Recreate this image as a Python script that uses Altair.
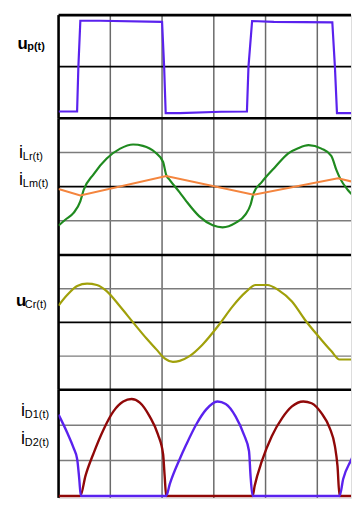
import altair as alt
import pandas as pd

# time axis in grid divisions (vertical grid every 1 division)
up_t = [0, 0.358, 0.383, 0.421, 0.805, 2.0, 2.04, 2.07, 2.34, 3.14, 3.64, 3.67, 3.74, 4.16, 5.29, 5.34, 5.38, 5.8]
up_v = [-0.87, -0.87, 0, 0.89, 0.89, 0.87, 0, -0.9, -0.9, -0.875, -0.87, 0, 0.885, 0.87, 0.86, 0, -0.9, -0.9]

ilr_t = [0, 0.13, 0.29, 0.42, 0.485, 0.676, 0.93, 1.19, 1.44, 1.63, 1.86, 2.02, 2.08, 2.15, 2.34,
         2.47, 2.72, 2.98, 3.17, 3.42, 3.61, 3.71, 3.77, 3.93, 4.19, 4.44, 4.64, 4.83, 5.08, 5.27,
         5.37, 5.44, 5.59, 5.8]
ilr_v = [-1.14, -0.97, -0.77, -0.43, -0.1, 0.36, 0.82, 1.11, 1.23, 1.19, 1.01, 0.72, 0.34, 0.19, -0.17,
         -0.43, -0.87, -1.13, -1.19, -1.06, -0.82, -0.53, -0.19, 0.14, 0.58, 0.97, 1.13, 1.21, 1.11, 0.9,
         0.48, 0.24, -0.1, -0.39]

ilm_t = [0, 0.42, 2.08, 3.77, 5.40, 5.8]
ilm_v = [-0.07, -0.26, 0.31, -0.24, 0.24, 0.1]

ucr_t = [0, 0.166, 0.36, 0.55, 0.74, 0.93, 1.19, 1.44, 1.70, 1.89, 2.05, 2.21, 2.34, 2.53, 2.78,
         3.10, 3.36, 3.61, 3.81, 4.03, 4.25, 4.51, 4.76, 5.02, 5.27, 5.43, 5.66, 5.8]
ucr_v = [0.5, 0.81, 1.08, 1.15, 1.11, 0.93, 0.47, 0, -0.48, -0.80, -1.07, -1.17, -1.14, -1.0, -0.66,
         -0.07, 0.47, 0.89, 1.11, 1.11, 0.96, 0.62, 0.08, -0.41, -0.85, -1.10, -1.10, -1.03]

id1_t = [0, 0.42, 0.52, 0.68, 0.87, 1.06, 1.25, 1.41, 1.57, 1.76, 1.92, 2.02, 2.05, 2.08,
         3.75, 3.79, 3.93, 4.12, 4.32, 4.51, 4.73, 4.89, 5.08, 5.24, 5.34, 5.39, 5.43, 5.8]
id1_v = [0, 0, 0.57, 1.22, 1.88, 2.39, 2.67, 2.74, 2.64, 2.25, 1.74, 1.18, 0.57, 0,
         0, 0.29, 0.99, 1.69, 2.2, 2.53, 2.67, 2.62, 2.34, 1.92, 1.41, 0.85, 0, 0]

id2_t = [0, 0.17, 0.29, 0.36, 0.40, 0.43, 2.08, 2.15, 2.34, 2.47, 2.66, 2.85, 3.07, 3.23, 3.42,
         3.58, 3.68, 3.71, 3.75, 5.43, 5.50, 5.66, 5.80]
id2_v = [2.3, 1.78, 1.36, 1.04, 0.48, 0, 0, 0.34, 1.04, 1.46, 2.02, 2.44, 2.67, 2.6, 2.25,
         1.74, 1.27, 0.57, 0, 0, 0.48, 1.04, 1.5]

# grid positions
grid_x = [1, 2, 3, 4, 5]
grid_y_p1 = []
grid_y_p23 = [-1, 1]
grid_y_p4 = [1, 2]

W = 295
XMAX = 295 / 52.2
P4H = 109
P4DOM = [3 - P4H / 35.7, 3]
FONT = "Liberation Sans"

BLUE = "#5a22ee"
GREEN = "#1f8a1f"
ORANGE = "#f4853e"
OLIVE = "#a0a00a"
RED = "#900808"
VGRID = "#6a6a6a"
HGRID = "#7c7c7c"


def xsc():
    return alt.Scale(domain=[0, XMAX], nice=False, zero=False)


def ysc(dom):
    return alt.Scale(domain=dom, nice=False, zero=False)


def line(t, v, color, dom, width=2.0, interp="linear"):
    df = pd.DataFrame({"t": t, "v": v})
    return alt.Chart(df).mark_line(color=color, strokeWidth=width, interpolate=interp, clip=True).encode(
        x=alt.X("t:Q", scale=xsc(), axis=None),
        y=alt.Y("v:Q", scale=ysc(dom), axis=None),
    )


def hrules(vals, dom, width, color):
    return alt.Chart(pd.DataFrame({"v": vals})).mark_rule(color=color, strokeWidth=width).encode(
        y=alt.Y("v:Q", scale=ysc(dom), axis=None))


def vrules(vals, width, color):
    return alt.Chart(pd.DataFrame({"t": vals})).mark_rule(color=color, strokeWidth=width).encode(
        x=alt.X("t:Q", scale=xsc(), axis=None))


def label(main, sub, xm, ym, xs_, ys, bold_main, msize, bold_sub=False):
    d = pd.DataFrame({"k": [0]})
    m = alt.Chart(d).mark_text(text=main, font=FONT, fontSize=msize,
                               fontWeight="bold" if bold_main else "normal",
                               align="left", baseline="alphabetic", color="black").encode(
        x=alt.value(xm), y=alt.value(ym))
    s = alt.Chart(d).mark_text(text=sub, font=FONT, fontSize=11,
                               fontWeight="bold" if bold_sub else "normal",
                               align="left", baseline="alphabetic", color="black").encode(
        x=alt.value(xs_), y=alt.value(ys))
    return [m, s]


def frame(dom, top, hgrid, center=True):
    layers = [vrules(grid_x, 1.5, VGRID)]
    if hgrid:
        layers.append(hrules(hgrid, dom, 1.5, HGRID))
    if center:
        layers.append(hrules([0], dom, 1.6, "black"))
    layers.append(hrules([top], dom, 2.6, "black"))
    layers.append(vrules([0], 2.6, "black"))
    return layers


D1 = [-1, 1]
D23 = [-2, 2]

p1 = alt.layer(
    *frame(D1, 1, grid_y_p1),
    line(up_t, up_v, BLUE, D1, 2.2),
    *label("u", "p(t)", -41.5, 34.5, -31.5, 35.5, True, 17, True),
).properties(width=W, height=104)

p2 = alt.layer(
    *frame(D23, 2, grid_y_p23),
    line(ilr_t, ilr_v, GREEN, D23, 2.2, "monotone"),
    line(ilm_t, ilm_v, ORANGE, D23, 2.0),
    *label("i", "Lr(t)", -40, 40, -36, 42.5, False, 18),
    *label("i", "Lm(t)", -40, 67, -36, 69.5, False, 18),
).properties(width=W, height=138)

p3 = alt.layer(
    *frame(D23, 2, grid_y_p23),
    line(ucr_t, ucr_v, OLIVE, D23, 2.2, "monotone"),
    *label("u", "Cr(t)", -43, 51, -34, 53, True, 17),
).properties(width=W, height=136)

p4 = alt.layer(
    *frame(P4DOM, 3, grid_y_p4, center=False),
    line(id1_t, id1_v, RED, P4DOM, 2.4, "monotone"),
    line(id2_t, id2_v, BLUE, P4DOM, 2.4, "monotone"),
    *label("i", "D1(t)", -38, 26.5, -34, 28.5, False, 18),
    *label("i", "D2(t)", -38, 54.5, -34, 56.5, False, 18),
).properties(width=W, height=P4H)

chart = alt.vconcat(p1, p2, p3, p4, spacing=0, bounds="flush").properties(
    padding={"left": 7, "top": 3, "right": 0, "bottom": 0}
).configure_view(strokeWidth=0).configure(background="white")

chart.save("out.html", embed_options={"renderer": "svg", "actions": False})
